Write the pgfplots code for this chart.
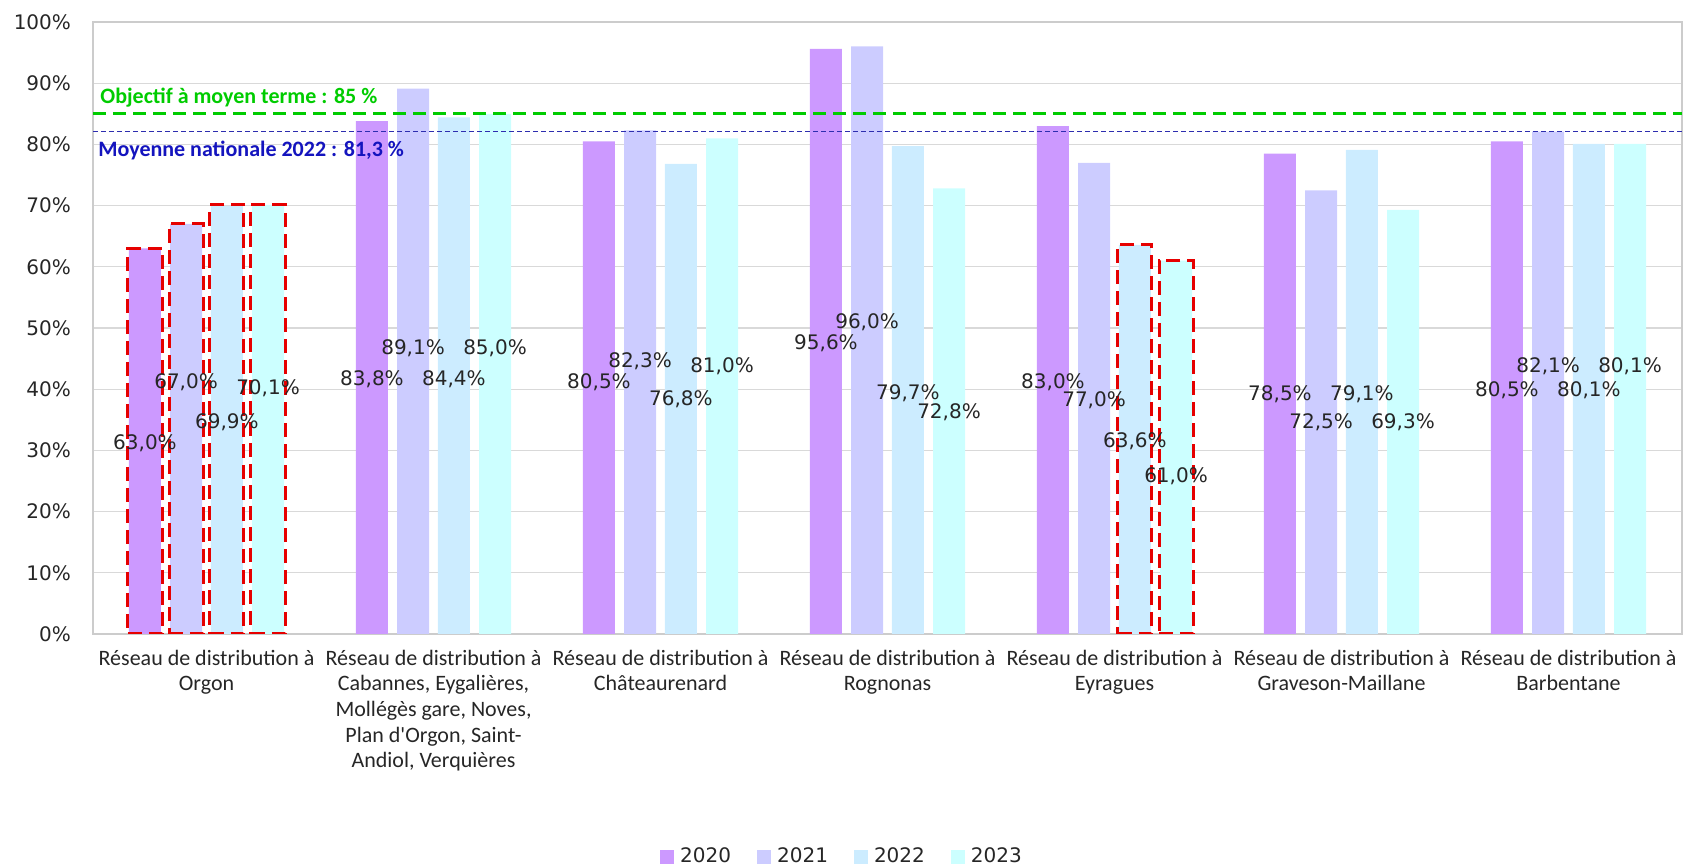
\documentclass[border=0pt]{standalone}
\usepackage{fontspec}
\setmainfont{Carlito}[Ligatures=TeXOff]
\newfontfamily\dejavu{DejaVu Sans}
\usepackage{pgfplots}
\usepackage{pgfplotstable}
\pgfplotsset{compat=1.18}
\definecolor{cA}{RGB}{204,153,255}
\definecolor{cB}{RGB}{204,204,255}
\definecolor{cC}{RGB}{204,236,255}
\definecolor{cD}{RGB}{204,255,255}
\definecolor{objgreen}{RGB}{0,204,0}
\definecolor{moyblue}{RGB}{20,20,190}
\definecolor{moyline}{RGB}{45,45,175}
\definecolor{boxred}{RGB}{230,0,0}
\definecolor{txt}{RGB}{38,38,38}

\pgfplotstableread{
x y ly
0 63.0 31.2
1 83.8 41.7
2 80.5 41.1
3 95.6 47.5
4 83.0 41.2
5 78.5 39.2
6 80.5 39.9
}\tA
\pgfplotstableread{
x y ly
0 67.0 41.2
1 89.1 46.7
2 82.3 44.6
3 96.0 51.0
4 77.0 38.2
5 72.5 34.6
6 82.1 43.8
}\tB
\pgfplotstableread{
x y ly
0 69.9 34.6
1 84.4 41.7
2 76.8 38.4
3 79.7 39.4
4 63.6 31.5
5 79.1 39.2
6 80.1 39.9
}\tC
\pgfplotstableread{
x y ly
0 70.1 40.2
1 85.0 46.7
2 81.0 43.7
3 72.8 36.3
4 61.0 25.7
5 69.3 34.6
6 80.1 43.8
}\tD

\begin{document}
\begin{tikzpicture}
\useasboundingbox (-46.5pt,-116pt) rectangle (796.5pt,317pt);
\begin{axis}[
  at={(0,0)}, anchor=south west,
  scale only axis, width=794.5pt, height=306pt,
  xmin=-0.5, xmax=6.5, ymin=0, ymax=100,
  xtick={0,...,6},
  xticklabels={
    {Réseau de distribution à\\Orgon},
    {Réseau de distribution à\\Cabannes, Eygalières,\\Mollégès gare, Noves,\\Plan d'Orgon, Saint-\\Andiol, Verquières},
    {Réseau de distribution à\\Châteaurenard},
    {Réseau de distribution à\\Rognonas},
    {Réseau de distribution à\\Eyragues},
    {Réseau de distribution à\\Graveson-Maillane},
    {Réseau de distribution à\\Barbentane}},
  ytick={0,10,...,100},
  yticklabels={0\%,10\%,20\%,30\%,40\%,50\%,60\%,70\%,80\%,90\%,100\%},
  major tick length=0pt,
  ymajorgrids, grid style={draw=gray!30, line width=0.6pt},
  axis line style={draw=gray!40, line width=0.6pt},
  xticklabel style={font=\fontsize{11}{12.8}\selectfont, align=center, text=txt, yshift=-4.5pt},
  yticklabel style={font=\dejavu\fontsize{10}{12}\selectfont, text=txt, xshift=-7.5pt},
  /pgf/number format/assume math mode=true,
  legend style={at={(0.472,-0.364)}, anchor=center, draw=none, fill=none,
    font=\dejavu\fontsize{10}{12}\selectfont, text=txt, legend columns=4,
    /tikz/every even column/.append style={column sep=11pt},
    /tikz/every odd column/.append style={column sep=1pt}},
  legend image code/.code={\fill[#1] (0pt,-3.5pt) rectangle (7pt,3.5pt);},
  lab/.style={draw=none, mark=none, forget plot, point meta=explicit,
    nodes near coords={\pgfmathprintnumber[fixed,fixed zerofill,precision=1,use comma]{\pgfplotspointmeta}\%},
    every node near coord/.append style={anchor=center, font=\dejavu\fontsize{10}{12}\selectfont, text=txt, inner sep=0.5pt}},
  redbox/.style={ybar, bar width=0.15, draw=boxred, fill=none, line width=1.5pt,
    dash pattern=on 7pt off 3.5pt, forget plot},
]
% bars
\addplot[ybar, bar width=0.141, bar shift=-0.271, fill=cA, draw=none] table[x=x,y=y]{\tA};
\addplot[ybar, bar width=0.141, bar shift=-0.090, fill=cB, draw=none] table[x=x,y=y]{\tB};
\addplot[ybar, bar width=0.141, bar shift=0.090, fill=cC, draw=none] table[x=x,y=y]{\tC};
\addplot[ybar, bar width=0.141, bar shift=0.271, fill=cD, draw=none] table[x=x,y=y]{\tD};
\legend{2020,2021,2022,2023}
% reference lines
\addplot[objgreen, line width=1.5pt, dash pattern=on 6.5pt off 3.5pt, forget plot] coordinates {(-0.5,85) (6.5,85)};
\addplot[moyline, line width=0.9pt, dash pattern=on 2.5pt off 1.5pt, forget plot] coordinates {(-0.5,82.1) (6.5,82.1)};
% red dashed boxes
\addplot[redbox, bar shift=-0.271] coordinates {(0,63.0)};
\addplot[redbox, bar shift=-0.090] coordinates {(0,67.0)};
\addplot[redbox, bar shift=0.090] coordinates {(0,70.1) (4,63.6)};
\addplot[redbox, bar shift=0.271] coordinates {(0,70.1) (4,61.0)};
% data labels
\addplot[lab] table[x expr=\thisrow{x}-0.271, y=ly, meta=y]{\tA};
\addplot[lab] table[x expr=\thisrow{x}-0.090, y=ly, meta=y]{\tB};
\addplot[lab] table[x expr=\thisrow{x}+0.090, y=ly, meta=y]{\tC};
\addplot[lab] table[x expr=\thisrow{x}+0.271, y=ly, meta=y]{\tD};
% annotations
\node[anchor=west, inner sep=0pt, text=objgreen, font=\bfseries\fontsize{11}{13}\selectfont] at (axis cs:-0.5,87.6) [xshift=3.5pt] {Objectif à moyen terme : 85 \%};
\node[anchor=west, inner sep=0pt, text=moyblue, font=\bfseries\fontsize{11}{13}\selectfont] at (axis cs:-0.5,79.0) [xshift=2.5pt] {Moyenne nationale 2022 : 81,3 \%};
\end{axis}
\end{tikzpicture}
\end{document}
